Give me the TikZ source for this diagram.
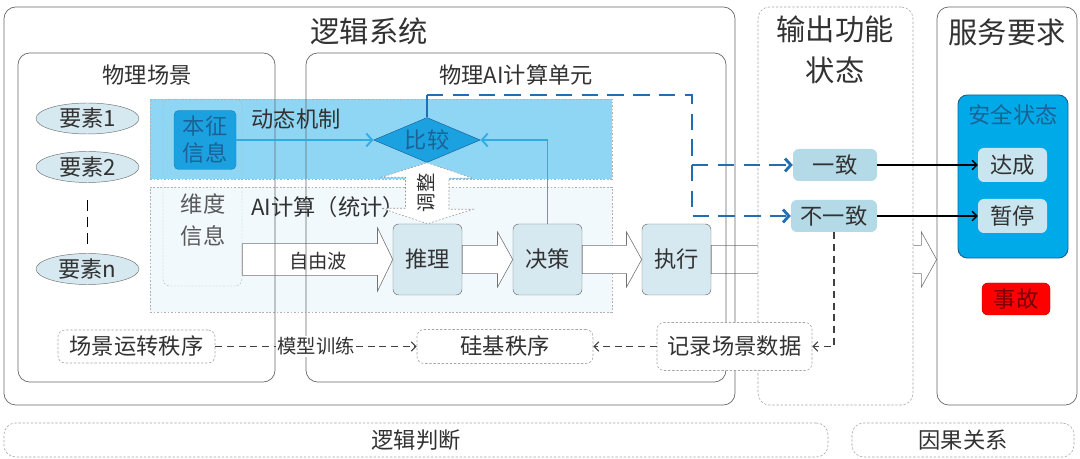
\documentclass[tikz,border=0pt]{standalone}
\usepackage{fontspec}
\setmainfont{Noto Sans CJK SC}
\usetikzlibrary{shapes.geometric,arrows.meta,calc}

\definecolor{bandeau}{RGB}{143,214,245}
\definecolor{calcul}{RGB}{241,249,253}
\definecolor{bleuvif}{RGB}{27,161,224}
\definecolor{bleufonce}{RGB}{33,110,178}
\definecolor{bleutrait}{RGB}{48,172,228}
\definecolor{bleusur}{RGB}{28,98,150}
\definecolor{securite}{RGB}{0,170,232}
\definecolor{grisbleu}{RGB}{214,232,240}
\definecolor{etatbleu}{RGB}{180,217,231}
\definecolor{etatclair}{RGB}{201,229,239}
\definecolor{texte}{RGB}{50,50,50}

\newcommand{\grand}{\fontsize{25}{30}\selectfont}
\newcommand{\moyen}{\fontsize{19}{25}\selectfont}
\newcommand{\petit}{\fontsize{16.5}{20}\selectfont}

% fleche large : depart, arrivee, demi-corps, demi-tete
\newcommand{\flechebloc}[4]{%
	\draw[bloc] let \p1=(#1), \p2=(#2) in (\x1,\y1+#3) -- (\x2-13pt,\y1+#3)
	-- (\x2-13pt,\y1+#4) -- (\x2,\y1) -- (\x2-13pt,\y1-#4) -- (\x2-13pt,\y1-#3)
	-- (\x1,\y1-#3) -- cycle;}

\begin{document}
\begin{tikzpicture}[x=0.03cm, y=-0.03cm]
	\tikzset{cadre/.style={draw=black!60, rounded corners=10pt, inner sep=0pt, line width=0.6pt},
	cadretiret/.style={draw=black!35, dash pattern=on 2pt off 1.5pt, rounded corners=10pt, inner sep=0pt, line width=0.5pt},
	zone/.style={draw=black!30, dash pattern=on 1.5pt off 1.5pt, inner sep=0pt, line width=0.4pt},
	titre/.style={font=\grand, text=texte},
	etiquette/.style={font=\moyen, text=texte},
	noeud/.style={draw=black!55, fill=grisbleu, rounded corners=5pt, minimum width=2.07cm, minimum height=2.13cm, inner sep=0pt, font=\moyen, text=texte},
	element/.style={ellipse, draw=black!55, fill=grisbleu, minimum width=3.09cm, minimum height=0.93cm, inner sep=0pt, font=\moyen, text=texte},
	etat/.style={fill=etatbleu, rounded corners=5pt, minimum height=0.96cm, inner sep=0pt, font=\moyen, text=texte},
	ordre/.style={cadretiret, fill=white, rounded corners=6pt, font=\moyen, text=texte},
	bloc/.style={draw=black!55, fill=white, line width=0.5pt},
	lienclair/.style={draw=bleutrait, line width=1.6pt},
	tiretbleu/.style={draw=bleufonce, line width=2.4pt, dash pattern=on 14pt off 8pt},
	fleche/.style={-{Straight Barb[length=4pt,width=8pt]}},
	flechebleue/.style={-{Straight Barb[length=5pt,width=11pt]}},
	pointille/.style={dash pattern=on 6pt off 4pt, line width=1pt, draw=black!75}};

	\fill[white] (0,0) rectangle (1080,459);
	\useasboundingbox (0,0) rectangle (1080,459);

	% zones du calcul
	\node[zone, fill=bandeau, minimum width=13.86cm, minimum height=2.4cm] (bandeau) at (381,139) {};
	\node[zone, fill=calcul, minimum width=13.86cm, minimum height=3.75cm] (calcul) at (381,249.5) {};
	\node[zone, rounded corners=6pt, minimum width=2.37cm, minimum height=5.61cm] (colonne) at (202.5,192.5) {};

	\foreach \nom/\x/\texte in {tuili/427.5/推理, juece/547.5/决策, zhixing/676.5/执行}{
		\node[noeud] (\nom) at (\x,259.5) {\texte};
	}

	\node[cadre, minimum width=4.2cm, minimum height=11.94cm] (service) at (1007,206) {};

	% fleches larges
	\flechebloc{colonne.east |- tuili}{tuili.west}{13.5pt}{27pt}
	\flechebloc{tuili.east}{juece.west}{12pt}{23.5pt}
	\flechebloc{juece.east}{zhixing.west}{12pt}{23.5pt}
	\flechebloc{zhixing.east}{zhixing -| service.west}{12pt}{23.5pt}
	\node[font=\petit, text=texte] (ziyoubo) at (318,261) {自由波};

	% cadres
	\node[cadre, minimum width=21.93cm, minimum height=11.94cm] (logique) at (369.5,206) {};
	\node[cadre, minimum width=7.71cm, minimum height=9.87cm] (scene) at (146.5,217.5) {};
	\node[cadre, minimum width=12.6cm, minimum height=9.87cm] (unite) at (516,217.5) {};
	\node[cadretiret, fill=white, minimum width=4.65cm, minimum height=11.94cm] (sortie) at (835.5,206) {};
	\node[cadretiret, minimum width=24.72cm, minimum height=1.02cm, font=\moyen, text=texte] (jugement) at (416,440) {逻辑判断};
	\node[cadretiret, minimum width=6.66cm, minimum height=1.02cm, font=\moyen, text=texte] (causalite) at (963,440) {因果关系};

	\node[titre] (titrelogique) at (369,31) {逻辑系统};
	\node[etiquette] (titrescene) at (147,75) {物理场景};
	\node[etiquette] (titreunite) at (516,75) {物理AI计算单元};
	\node[titre, align=center, font=\fontsize{25}{35}\selectfont] (titresortie) at (835,50) {输出功能\\状态};
	\node[titre] (titreservice) at (1007,32) {服务要求};

	% elements de la scene
	\foreach \nom/\y/\texte in {e1/118.5/要素1, e2/167/要素2, en/269/要素n}{
		\node[element] (\nom) at (87.5,\y) {\texte};
	}
	\draw[line width=1.5pt, dash pattern=on 9pt off 5pt, shorten <=15pt, shorten >=8pt] (e2) -- (en);

	% mecanisme dynamique
	\node[etiquette] (dongtai) at (296,119) {动态机制};
	\node[etiquette] (aijisuan) at (328,207) {AI计算（统计）};
	\node[fill=bleuvif, draw=bleuvif!80!black, rounded corners=4pt, minimum width=1.86cm, minimum height=1.77cm, inner sep=0pt, align=center, font=\fontsize{19}{23}\selectfont, text=bleusur] (benzheng) at (205,140) {本征\\信息};
	\node[align=center, font=\fontsize{19}{27}\selectfont, text=black!65] (weidu) at (203,220) {维度\\信息};
	\node[diamond, aspect=2.4, fill=bleuvif, draw=bleusur, minimum width=3.2cm, minimum height=1.35cm, inner sep=0pt, font=\moyen, text=bleusur] (bijiao) at (427,140) {比较};

	\draw[bloc, draw=black!40, dash pattern=on 1.5pt off 1.5pt] (bijiao.south) -- ++(46,15.5) -- ++(-24,0) -- ++(0,31) -- ++(24,0) -- (tuili.north) -- ++(-46,-15.5) -- ++(24,0) -- ++(0,-31) -- ++(-24,0) -- cycle;
	\node[rotate=90, font=\petit, text=texte] (tiaozheng) at (426,193) {调整};

	\draw[lienclair, flechebleue] (benzheng.east) -- (bijiao.west);
	\draw[lienclair, flechebleue] (juece.north) |- (bijiao.east);

	% etats de sortie
	\node[etat, minimum width=2.52cm] (yizhi) at (835,165) {一致};
	\node[etat, minimum width=2.58cm] (buyizhi) at (834,216) {不一致};

	\coordinate (haut) at (427,95);
	\coordinate (coude) at (692,95);
	\draw[draw=bleufonce, line width=2pt] (bijiao.north) -- (haut);
	\draw[tiretbleu, flechebleue] (haut) -- (coude) |- (buyizhi.west);
	\draw[tiretbleu, flechebleue] (coude |- yizhi.west) -- (yizhi.west);

	% exigences de service
	\node[draw=bleusur, fill=securite, rounded corners=8pt, minimum width=3.3cm, minimum height=4.89cm, line width=0.8pt] (anquan) at (1013,176.5) {};
	\node[font=\moyen, text=bleusur] (titreanquan) at (1013,115) {安全状态};
	\node[etat, fill=etatclair, minimum width=2.07cm, minimum height=1.02cm] (dacheng) at (1012.5,165) {达成};
	\node[etat, fill=etatclair, minimum width=2.07cm, minimum height=1.02cm] (zanting) at (1012.5,216) {暂停};
	\node[fill=red, draw=red!75!black, rounded corners=5pt, minimum width=2.04cm, minimum height=0.96cm, inner sep=0pt, font=\moyen, text=red!45!black] (shigu) at (1016,299) {事故};

	\draw[line width=1.2pt, fleche] (yizhi) -- (dacheng);
	\draw[line width=1.2pt, fleche] (buyizhi) -- (zanting);

	% ordres
	\node[ordre, minimum width=4.71cm, minimum height=0.99cm] (ordrescene) at (136.5,346.5) {场景运转秩序};
	\node[ordre, minimum width=5.28cm, minimum height=1.02cm] (guiji) at (505,346.5) {硅基秩序};
	\node[ordre, minimum width=4.65cm, minimum height=1.44cm] (jilu) at (734.5,346.5) {记录场景数据};

	\draw[pointille, fleche] (ordrescene) -- node[fill=white, inner sep=1pt, font=\petit, text=texte] (xunlian) {模型训练} (guiji);
	\draw[pointille, fleche] (jilu) -- (guiji);
	\draw[pointille, fleche] (buyizhi.south) |- (jilu.east);
\end{tikzpicture}
\end{document}
